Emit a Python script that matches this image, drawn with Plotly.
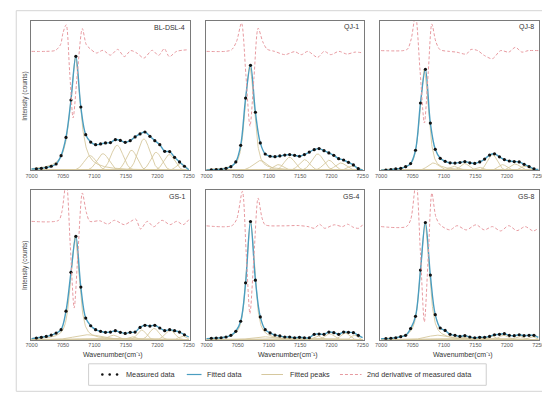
import numpy as np
import plotly.graph_objects as go

W, H = 550, 393

# ---------------- data (intensity in % of panel height) ----------------
wavenumber = [7007.6, 7015.5, 7023.3, 7031.2, 7039.0, 7046.9, 7054.7, 7062.6, 7070.4, 7078.3,
              7086.1, 7094.0, 7101.8, 7109.7, 7117.5, 7125.4, 7133.2, 7141.1, 7148.9, 7156.8,
              7164.6, 7172.5, 7180.3, 7188.2, 7196.0, 7203.9, 7211.7, 7219.6, 7227.4, 7235.3,
              7243.1]
tick_values = [7000, 7050, 7100, 7150, 7200, 7250]
tick_labels = ["7000", "7050", "7100", "7150", "7200", "7250"]
sample_names = ["BL-DSL-4", "QJ-1", "QJ-8", "GS-1", "GS-4", "GS-8"]

measured_bl_dsl_4 = [1.0, 1.3, 1.8, 2.7, 4.2, 9.8, 22.0, 47.0, 76.2, 42.3,
                     23.8, 18.9, 17.1, 17.6, 18.3, 18.5, 20.5, 20.0, 18.7, 19.8,
                     22.3, 24.3, 25.6, 22.7, 19.8, 17.1, 12.7, 12.5, 8.7, 5.6, 2.7]
measured_qj_1 = [0.3, 0.4, 0.7, 1.3, 2.4, 5.6, 16.7, 48.3, 70.2, 38.8,
                 18.3, 10.9, 9.4, 9.1, 9.6, 10.2, 10.5, 10.0, 9.4, 10.5,
                 12.2, 13.8, 14.5, 13.1, 11.6, 10.0, 7.8, 6.9, 5.3, 3.6, 1.1]
measured_qj_8 = [0.2, 0.4, 0.9, 1.3, 2.4, 4.5, 13.4, 45.0, 67.5, 31.6,
                 14.0, 8.0, 6.0, 5.0, 4.8, 5.2, 5.8, 5.0, 4.6, 5.6,
                 7.5, 10.2, 11.0, 9.0, 7.2, 6.2, 5.8, 5.6, 4.0, 2.5, 1.0]
measured_gs_1 = [1.1, 1.6, 2.2, 3.1, 4.4, 6.7, 19.0, 44.9, 68.9, 35.1,
                 14.4, 9.3, 6.7, 5.6, 4.9, 5.1, 6.0, 4.9, 4.2, 4.9,
                 5.1, 8.2, 9.6, 9.1, 9.6, 7.8, 6.0, 6.7, 6.0, 5.1, 3.3]
measured_gs_4 = [0.9, 1.1, 1.3, 1.8, 2.9, 5.6, 12.3, 37.9, 78.8, 39.7,
                 15.2, 6.7, 4.5, 3.1, 2.5, 1.8, 1.8, 1.3, 1.6, 1.3,
                 1.3, 3.6, 3.8, 3.6, 5.1, 4.7, 3.6, 5.1, 4.9, 4.7, 2.9]
measured_gs_8 = [0.7, 0.9, 1.3, 2.0, 2.9, 7.4, 15.6, 46.4, 78.1, 43.1,
                 16.7, 7.8, 6.2, 3.6, 2.9, 2.2, 2.7, 1.8, 1.3, 1.6,
                 1.6, 2.2, 3.3, 3.6, 4.0, 2.9, 2.7, 3.3, 2.7, 2.9, 2.9]

# fitted curve values at the two ends of the range (7000 and 7250)
fit_edges_bl_dsl_4 = [0.9, 0.4]
fit_edges_qj_1 = [0.2, 0.2]
fit_edges_qj_8 = [0.1, 0.5]
fit_edges_gs_1 = [0.7, 1.8]
fit_edges_gs_4 = [0.7, 1.4]
fit_edges_gs_8 = [0.6, 1.5]

# fitted component peaks: centre, height, FWHM, Lorentzian fraction
peak_center_bl_dsl_4 = [7069.5, 7093, 7113.5, 7136, 7159, 7178.6, 7198, 7219, 7237]
peak_height_bl_dsl_4 = [75.0, 9.8, 11.1, 16.7, 13.4, 20.9, 12.0, 10.5, 4.5]
peak_fwhm_bl_dsl_4 = [18.5, 22, 22, 22, 20, 22, 20, 20, 16]
peak_lor_bl_dsl_4 = [0.85, 0, 0, 0, 0, 0, 0, 0, 0]

peak_center_qj_1 = [7069, 7086, 7115, 7133, 7157, 7178, 7196, 7215, 7234]
peak_height_qj_1 = [69.5, 6.5, 3.8, 8.7, 7.1, 10.9, 6.7, 4.9, 3.0]
peak_fwhm_qj_1 = [17, 26, 18, 20, 20, 22, 20, 20, 18]
peak_lor_qj_1 = [0.5, 0, 0, 0, 0, 0, 0, 0, 0]

peak_center_qj_8 = [7068.5, 7083, 7115, 7133, 7156, 7177, 7193, 7213, 7229]
peak_height_qj_8 = [67.0, 4.9, 2.7, 4.5, 2.0, 10.5, 3.8, 4.2, 2.7]
peak_fwhm_qj_8 = [16, 20, 18, 16, 16, 18, 16, 18, 16]
peak_lor_qj_8 = [0.5, 0, 0, 0, 0, 0, 0, 0, 0]

peak_center_gs_1 = [7069, 7090, 7130, 7160, 7175, 7195, 7220, 7240]
peak_height_gs_1 = [68.5, 3.3, 3.0, 2.0, 6.5, 7.5, 6.5, 2.5]
peak_fwhm_gs_1 = [16, 50, 18, 16, 16, 18, 18, 14]
peak_lor_gs_1 = [0.6, 0, 0, 0, 0, 0, 0, 0]

peak_center_gs_4 = [7070.5, 7090, 7178, 7197, 7222, 7237]
peak_height_gs_4 = [78.5, 2.0, 2.5, 4.0, 4.5, 3.0]
peak_fwhm_gs_4 = [15.5, 40, 14, 16, 16, 12]
peak_lor_gs_4 = [0.6, 0, 0, 0, 0, 0]

peak_center_gs_8 = [7069.5, 7090, 7130, 7175, 7195, 7220, 7240]
peak_height_gs_8 = [78.0, 3.0, 1.5, 2.5, 3.0, 2.2, 2.0]
peak_fwhm_gs_8 = [16.5, 40, 20, 16, 16, 16, 14]
peak_lor_gs_8 = [0.6, 0, 0, 0, 0, 0, 0]

# 2nd derivative of measured data (offset / scaled, % of panel height)
deriv_x_bl_dsl_4 = [7000, 7022, 7038, 7046, 7050, 7055, 7060.5, 7066, 7073, 7080.7, 7087, 7093,
                    7103, 7113.5, 7125.5, 7137, 7147.4, 7157.8, 7168, 7178.6, 7191.7, 7202,
                    7211, 7219, 7230.7, 7250]
deriv_y_bl_dsl_4 = [79.5, 79.5, 80.2, 84, 92, 97.3, 66, 35, 66, 94.7, 84, 81.3,
                    78.4, 80.2, 77, 80.8, 76, 80, 78.2, 75, 80.2, 76.8,
                    81.3, 76, 79.5, 80.6]
deriv_x_qj_1 = [7000, 7030, 7040, 7048, 7056, 7063, 7069.6, 7076, 7082.7, 7090, 7097, 7109,
                7125.7, 7141.4, 7151.8, 7162.3, 7178, 7188.5, 7199, 7212, 7225, 7238, 7250]
deriv_y_qj_1 = [79.5, 79.5, 80.5, 86, 98.4, 64, 29.4, 62, 95, 86, 81, 79.5,
                77.3, 79.3, 77.3, 79.5, 75.5, 79.5, 77.3, 79.5, 77.7, 79, 78.5]
deriv_x_qj_8 = [7000, 7035, 7042, 7048, 7054.7, 7062, 7068.75, 7075, 7080.7, 7087, 7093.75,
                7108.3, 7119.8, 7135.4, 7143, 7153.6, 7164, 7177, 7190, 7203, 7213.5, 7224,
                7234, 7250]
deriv_y_qj_8 = [80, 80, 81, 88, 104, 66, 31.6, 66, 97.8, 86, 80.6,
                79.5, 79, 77.7, 80.8, 80, 76.8, 74.6, 80, 79, 82.2, 79,
                80, 80]
deriv_x_gs_1 = [7000, 7043, 7048, 7055.2, 7061.5, 7067.7, 7074, 7080.7, 7087, 7092.7, 7108.3,
                7121.4, 7131.8, 7147.4, 7157.8, 7165.6, 7173.4, 7183.9, 7194.3, 7207.3, 7220.3,
                7230.7, 7241.1, 7250]
deriv_y_gs_1 = [78.9, 79.6, 85, 106, 63, 21.1, 60, 97.8, 85, 78.9, 79.3,
                77.1, 79.6, 76.7, 78.9, 80.4, 73.8, 78.9, 75.3, 79.6, 76.7,
                78.9, 76.7, 80]
deriv_x_gs_4 = [7000, 7040, 7048, 7057.4, 7063.5, 7069.5, 7076, 7082.6, 7089, 7094, 7120.5,
                7146.8, 7162.6, 7173, 7181, 7189, 7204.7, 7218, 7225.8, 7236, 7244, 7250]
deriv_y_gs_4 = [75.9, 75.9, 80, 98.9, 58, 17.4, 56, 94.4, 81, 76.6, 75.9,
                76.1, 75.4, 74.3, 77, 74.3, 76.6, 75.4, 77, 74.8, 74.3, 76.6]
deriv_x_gs_8 = [7000, 7040, 7047, 7055.7, 7062.5, 7068.75, 7075, 7080.7, 7087, 7093.75, 7109.4,
                7120.8, 7135.4, 7151, 7164, 7177, 7190, 7203, 7216, 7229, 7242, 7250]
deriv_y_gs_8 = [75.4, 75.4, 80, 106, 58, 11.8, 56, 97.8, 82, 76.6, 73.2,
                76, 73.2, 76.6, 73.2, 75.4, 72.5, 76, 72.7, 75.4, 72.5, 74.3]

panels = [
    (measured_bl_dsl_4, fit_edges_bl_dsl_4, peak_center_bl_dsl_4, peak_height_bl_dsl_4,
     peak_fwhm_bl_dsl_4, peak_lor_bl_dsl_4, deriv_x_bl_dsl_4, deriv_y_bl_dsl_4),
    (measured_qj_1, fit_edges_qj_1, peak_center_qj_1, peak_height_qj_1,
     peak_fwhm_qj_1, peak_lor_qj_1, deriv_x_qj_1, deriv_y_qj_1),
    (measured_qj_8, fit_edges_qj_8, peak_center_qj_8, peak_height_qj_8,
     peak_fwhm_qj_8, peak_lor_qj_8, deriv_x_qj_8, deriv_y_qj_8),
    (measured_gs_1, fit_edges_gs_1, peak_center_gs_1, peak_height_gs_1,
     peak_fwhm_gs_1, peak_lor_gs_1, deriv_x_gs_1, deriv_y_gs_1),
    (measured_gs_4, fit_edges_gs_4, peak_center_gs_4, peak_height_gs_4,
     peak_fwhm_gs_4, peak_lor_gs_4, deriv_x_gs_4, deriv_y_gs_4),
    (measured_gs_8, fit_edges_gs_8, peak_center_gs_8, peak_height_gs_8,
     peak_fwhm_gs_8, peak_lor_gs_8, deriv_x_gs_8, deriv_y_gs_8),
]

# ---------------- styling ----------------
FONT = "Arial, Liberation Sans, Helvetica, sans-serif"
C_DOT = "#111111"
C_FIT = "#4a9dc0"
C_PEAK = "#d6c89e"
C_DER = "#e79aa0"
C_BOX = "#7a7a7a"

cols_px = [(18.3, 180.0), (196.5, 357.0), (374.3, 536.0)]
rows_px = [(12.7, 162.3), (181.7, 331.7)]


def fx(p):
    return p / W


def fy(p):
    return 1 - p / H


def pseudo_voigt(x, c, h, w, eta):
    lor = 1.0 / (1.0 + ((x - c) / (w / 2.0)) ** 2)
    gau = np.exp(-4.0 * np.log(2.0) * ((x - c) / w) ** 2)
    return h * (eta * lor + (1.0 - eta) * gau)


xfine = np.linspace(7000, 7250, 501)

fig = go.Figure()
layout = dict(
    width=W, height=H, margin=dict(l=0, r=0, t=0, b=0),
    paper_bgcolor="white", plot_bgcolor="white", showlegend=False,
    font=dict(family=FONT, color="#333333", size=7),
)
annotations = []
shapes = []

for i, (meas, edges, pc, ph, pw, pl, dx, dy) in enumerate(panels):
    r, c = divmod(i, 3)
    xa = "x" if i == 0 else f"x{i+1}"
    ya = "y" if i == 0 else f"y{i+1}"
    xkey = "xaxis" if i == 0 else f"xaxis{i+1}"
    ykey = "yaxis" if i == 0 else f"yaxis{i+1}"
    x0p, x1p = cols_px[c]
    y0p, y1p = rows_px[r]
    layout[xkey] = dict(
        domain=[fx(x0p), fx(x1p)], range=[6999, 7251.5], anchor=ya,
        tickvals=tick_values, ticktext=tick_labels, ticks="",
        tickfont=dict(size=5.5, color="#555555", family=FONT),
        showline=True, mirror=True, linecolor=C_BOX, linewidth=1,
        showgrid=False, zeroline=False, fixedrange=True,
    )
    layout[ykey] = dict(
        domain=[fy(y1p), fy(y0p)], range=[0, 100], anchor=xa,
        showticklabels=False, ticks="",
        showline=True, mirror=True, linecolor=C_BOX, linewidth=1,
        showgrid=False, zeroline=False, fixedrange=True,
    )

    # fitted peaks
    px_all, py_all = [], []
    for cc, hh, ww, ee in zip(pc, ph, pw, pl):
        px_all += list(xfine) + [None]
        py_all += list(pseudo_voigt(xfine, cc, hh, ww, ee)) + [None]
    fig.add_trace(go.Scatter(x=px_all, y=py_all, mode="lines", xaxis=xa, yaxis=ya,
                             line=dict(color=C_PEAK, width=0.9), hoverinfo="skip"))
    # fitted data
    fig.add_trace(go.Scatter(x=[7000] + wavenumber + [7250],
                             y=[edges[0]] + meas + [edges[1]],
                             mode="lines", xaxis=xa, yaxis=ya,
                             line=dict(color=C_FIT, width=1.4, shape="spline", smoothing=1.0)))
    # measured data
    fig.add_trace(go.Scatter(x=wavenumber, y=meas, mode="markers", xaxis=xa, yaxis=ya,
                             marker=dict(color=C_DOT, size=3.2)))
    # 2nd derivative
    fig.add_trace(go.Scatter(x=dx, y=dy, mode="lines", xaxis=xa, yaxis=ya,
                             line=dict(color=C_DER, width=1, dash="3px,2px",
                                       shape="spline", smoothing=0.8)))

    # sample label
    annotations.append(dict(text=sample_names[i], x=fx(x1p - 3), y=fy(y0p + 6.5),
                            xref="paper", yref="paper", xanchor="right", yanchor="middle",
                            showarrow=False, font=dict(size=7, color="#333333", family=FONT)))

# y-axis titles
for (y0p, y1p) in rows_px:
    annotations.append(dict(text="Intensity (counts)", x=fx(11.5), y=fy((y0p + y1p) / 2),
                            xref="paper", yref="paper", xanchor="center", yanchor="middle",
                            textangle=-90, showarrow=False,
                            font=dict(size=6.5, color="#444444", family=FONT)))
# x-axis titles (bottom row)
for (x0p, x1p) in cols_px:
    annotations.append(dict(text="Wavenumber(cm\u207b\u00b9)", x=fx((x0p + x1p) / 2 + 3),
                            y=fy(346.5), xref="paper", yref="paper",
                            xanchor="center", yanchor="middle", showarrow=False,
                            font=dict(size=7, color="#333333", family=FONT)))

# outer frame
shapes.append(dict(type="rect", xref="paper", yref="paper", x0=fx(3.3), x1=fx(544.3),
                   y0=fy(383.3), y1=fy(2.7), line=dict(color="#d4d4d4", width=1)))

# legend (manual)
ly = 366.5
shapes.append(dict(type="rect", xref="paper", yref="paper", x0=fx(77), x1=fx(482),
                   y0=fy(377.3), y1=fy(355.8), line=dict(color="#cfcfcf", width=1)))
for dxp in [91, 98.5, 106]:
    shapes.append(dict(type="circle", xref="paper", yref="paper",
                       x0=fx(dxp - 1.3), x1=fx(dxp + 1.3), y0=fy(ly + 1.3), y1=fy(ly - 1.3),
                       fillcolor=C_DOT, line=dict(width=0)))
shapes.append(dict(type="line", xref="paper", yref="paper", x0=fx(177), x1=fx(192),
                   y0=fy(ly), y1=fy(ly), line=dict(color=C_FIT, width=1.2)))
shapes.append(dict(type="line", xref="paper", yref="paper", x0=fx(253), x1=fx(275),
                   y0=fy(ly), y1=fy(ly), line=dict(color=C_PEAK, width=1)))
shapes.append(dict(type="line", xref="paper", yref="paper", x0=fx(333), x1=fx(355),
                   y0=fy(ly), y1=fy(ly), line=dict(color=C_DER, width=1, dash="3px,2px")))
for txt, xp in [("Measured data", 113), ("Fitted data", 196), ("Fitted peaks", 280),
                ("2nd derivative of measured data", 359)]:
    annotations.append(dict(text=txt, x=fx(xp), y=fy(ly), xref="paper", yref="paper",
                            xanchor="left", yanchor="middle", showarrow=False,
                            font=dict(size=7.3, color="#333333", family=FONT)))

layout["annotations"] = annotations
layout["shapes"] = shapes
fig.update_layout(**layout)
fig.write_html("out.html")
